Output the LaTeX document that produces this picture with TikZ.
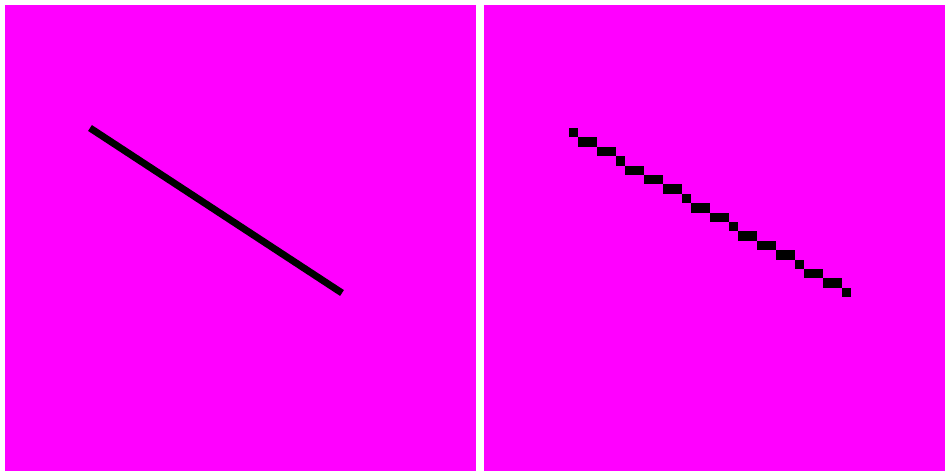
\documentclass[tikz,border=0pt]{standalone}
\usepackage{xcolor}
\usepackage{tikz}
\definecolor{panelpink}{RGB}{255,0,255}

\begin{document}
\begin{tikzpicture}[x=1pt,y=-1pt,
      panel/.style={fill=panelpink, draw=none},
      stroke/.style={line width=7pt, black},
      pix/.style={fill=black, draw=none}
    ]
    \fill[white] (0,0) rectangle (945,471);
    \fill[panel] (5,5) rectangle (476,471);
    \fill[panel] (484,5) rectangle (945,471);

    % smooth line
    \draw[stroke] (90,128) -- (342,293);

    % same kind of line, one square pixel at a time
    \foreach \i in {0,...,29} {
      \pgfmathsetmacro{\row}{round(\i*17/29)}
      \fill[pix] (569+\i*9.4, 128+\row*9.4) rectangle ++(9.4,9.4);
    }
  \end{tikzpicture}
\end{document}
